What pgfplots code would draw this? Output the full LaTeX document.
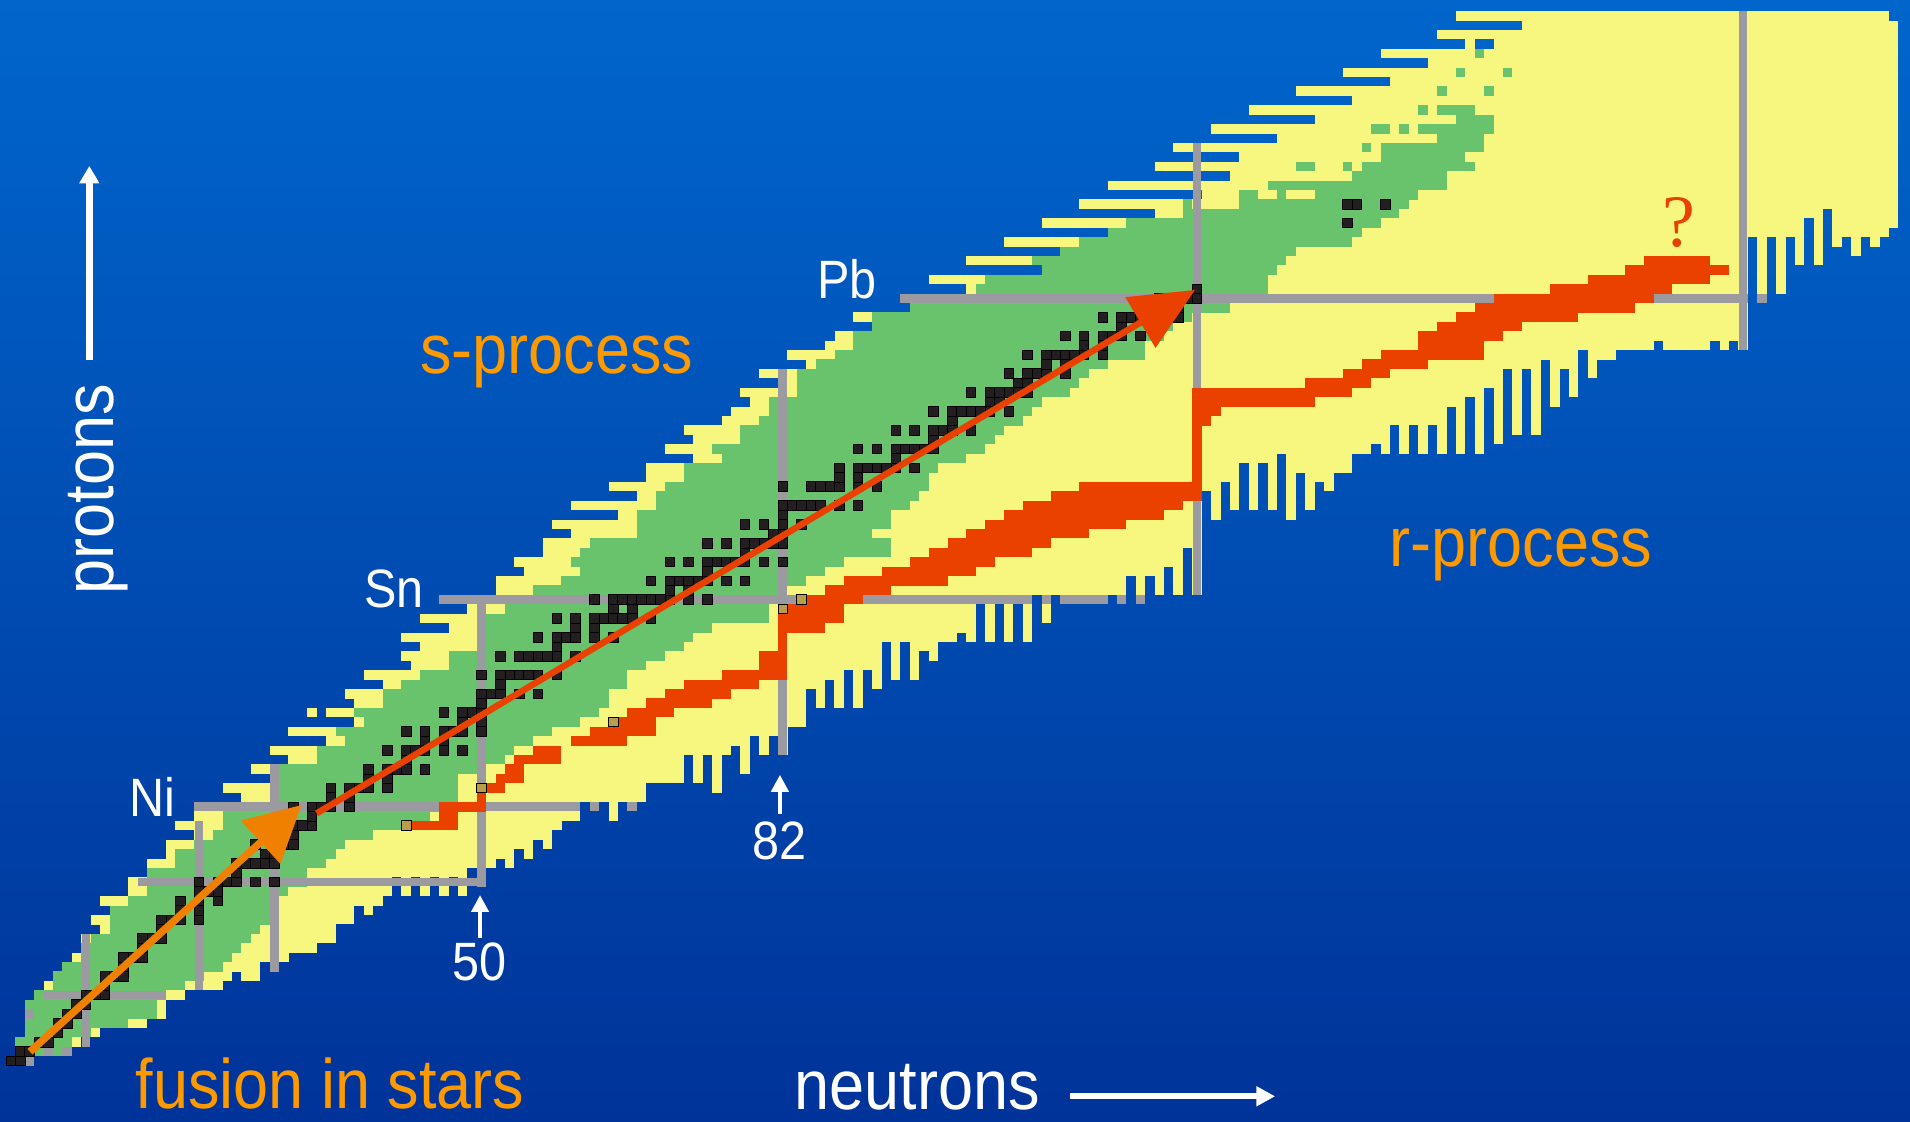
\documentclass[border=0pt]{standalone}
\usepackage{fontspec}
\setmainfont{Liberation Sans}
\newfontfamily\qfont{Liberation Serif}
\usepackage{graphicx}
\usepackage{pgfplots}
\pgfplotsset{compat=1.18}
\usetikzlibrary{arrows.meta}
\definecolor{cyel}{RGB}{247,247,128}
\definecolor{cgrn}{RGB}{104,195,108}
\definecolor{cblk}{RGB}{35,31,32}
\definecolor{cred}{RGB}{234,64,0}
\definecolor{cgray}{RGB}{154,154,160}
\definecolor{cgold}{RGB}{184,158,72}
\definecolor{corg}{RGB}{240,128,0}
\definecolor{ctxt}{RGB}{255,153,0}
\definecolor{bgtop}{RGB}{0,102,204}
\definecolor{bgbot}{RGB}{0,51,153}
\pgfplotsset{
  rowbars/.style={only marks, mark=*, mark size=0pt,
    mark options={draw=none, fill=none},
    error bars/.cd, x dir=plus, x explicit, error mark=none,
    error bar style={draw=#1, line width=4.76pt, line cap=butt}},
  colbars/.style={only marks, mark=*, mark size=0pt,
    mark options={draw=none, fill=none},
    error bars/.cd, y dir=plus, y explicit, error mark=none,
    error bar style={draw=#1, line width=4.76pt, line cap=butt}},
  magic/.style={cgray, line width=4.3pt, line cap=butt},
}
\begin{document}
\begin{tikzpicture}
\shade[top color=bgtop, bottom color=bgbot] (0,0) rectangle (955pt,561pt);
\begin{axis}[at={(0,0)}, anchor=south west, scale only axis,
  width=955pt, height=561pt,
  xmin=-1.137, xmax=201.73, ymin=-5.48, ymax=113.69,
  axis lines=none, ticks=none, clip marker paths=true]

% ---------- yellow: rows (predicted nuclei) ----------
\addplot[rowbars=cyel] table[x=x, y=z, x error=w] {
z x w
1 -0.5 3
2 0.5 6
3 0.5 7
4 1.5 8
5 1.5 13
6 1.5 15
7 1.5 15
8 2.5 16
9 3.5 15
10 4.5 16
11 5.5 17
12 6.5 18
13 7.5 19
14 7.5 21
15 9.5 21
16 8.5 24
17 10.5 24
18 9.5 27
19 12.5 26
20 12.5 28
21 14.5 28
22 14.5 30
23 16.5 30
24 16.5 31
25 19.5 28
26 17.5 30
27 19.5 28
28 19.5 31
29 24.5 26
30 22.5 30
31 27.5 27
32 25.5 29
33 29.5 29
34 27.5 33
35 33.5 32
36 29.5 39
37 36.5 32
38 33.5 37
38 31.5 1
39 36.5 38
40 35.5 41
41 39.5 40
42 37.5 45
43 42.5 40
44 41.5 41
45 43.5 39
46 41.5 41
47 46.5 40
48 43.5 45
49 48.5 40
50 45.5 45
51 51.5 42
52 51.5 48
53 54.5 48
54 53.5 51
55 56.5 52
56 56.5 54
57 59.5 55
58 57.5 61
59 64.5 58
60 59.5 65
61 66.5 60
62 63.5 63
63 67.5 59
64 67.5 59
65 72.5 54
66 69.5 57
67 72.5 54
68 71.5 55
69 75.5 52
70 76.5 52
71 78.5 60
72 77.5 65
73 81.5 63
74 79.5 67
75 84.5 66
76 82.5 74
77 86.5 88
78 87.5 97
79 91.5 93
80 89.5 95
81 95.5 89
82 94.5 90
83 101.5 83
84 97.5 87
85 109.5 75
86 101.5 83
87 111.5 73
88 105.5 79
89 116.5 68
90 109.5 81
91 121.5 69
92 113.5 87
93 126.5 74
94 116.5 84
95 129.5 71
96 121.5 79
97 130.5 70
98 123.5 77
99 134.5 66
100 127.5 73
101 138.5 62
102 131.5 69
103 142.5 58
104 136.5 64
105 146.5 54
106 141.5 59
107 150.5 50
108 145.5 55
109 157.5 43
109 154.5 1
110 151.5 49
111 160.5 40
112 153.5 46
};

% ---------- yellow: columns (neutron-rich edge) ----------
\addplot[colbars=cyel] table[x=n, y=y, y error=h] {
n y h
19 8.5 2
20 8.5 2
21 8.5 3
22 8.5 3
23 9.5 3
24 10.5 2
25 9.5 4
26 9.5 4
27 11.5 3
28 10.5 4
29 11.5 4
30 12.5 3
31 12.5 4
32 12.5 4
33 13.5 4
34 13.5 4
35 15.5 3
36 15.5 3
37 17.5 2
38 16.5 3
39 17.5 3
40 18.5 2
41 20.5 1
42 18.5 3
43 20.5 2
44 18.5 4
45 20.5 3
46 18.5 5
47 20.5 4
48 18.5 10
49 21.5 7
50 19.5 9
51 21.5 9
52 22.5 8
53 21.5 10
54 23.5 8
55 22.5 11
56 24.5 9
57 23.5 10
58 25.5 8
59 26.5 8
60 26.5 8
61 28.5 7
62 28.5 7
63 28.5 7
64 26.5 9
65 28.5 7
66 28.5 8
67 28.5 8
68 30.5 6
69 30.5 8
70 30.5 8
71 30.5 9
72 33.5 6
73 30.5 9
74 33.5 6
75 29.5 11
76 33.5 7
77 34.5 7
78 31.5 10
79 35.5 6
80 33.5 9
81 35.5 7
82 33.5 9
83 36.5 11
84 36.5 11
85 40.5 7
86 38.5 9
87 41.5 7
88 38.5 10
89 42.5 8
90 38.5 12
91 42.5 9
92 40.5 11
93 45.5 6
94 41.5 11
95 45.5 7
96 41.5 11
97 44.5 8
98 43.5 9
99 45.5 7
100 45.5 8
101 46.5 7
102 45.5 8
103 50.5 4
104 45.5 9
105 50.5 5
106 45.5 10
107 50.5 5
108 45.5 10
109 50.5 6
110 47.5 9
111 50.5 7
112 50.5 7
113 50.5 7
114 50.5 7
115 50.5 8
116 50.5 8
117 50.5 8
118 50.5 8
119 52.5 7
120 50.5 9
121 52.5 7
122 50.5 9
123 53.5 7
124 50.5 10
125 55.5 6
126 50.5 11
127 61.5 8
128 58.5 12
129 62.5 9
130 59.5 12
131 64.5 7
132 59.5 12
133 64.5 7
134 59.5 12
135 65.5 6
136 58.5 13
137 63.5 8
138 59.5 12
139 62.5 10
140 61.5 11
141 63.5 9
142 63.5 9
143 65.5 8
144 65.5 8
145 66.5 8
146 65.5 9
147 68.5 7
148 65.5 10
149 68.5 7
150 65.5 10
151 68.5 8
152 65.5 11
153 70.5 6
154 65.5 11
155 71.5 5
156 65.5 11
157 72.5 5
158 66.5 11
159 74.5 3
160 67.5 10
161 74.5 3
162 67.5 10
163 75.5 2
164 70.5 7
165 74.5 3
166 71.5 6
167 76.5 1
168 73.5 4
169 75.5 2
170 75.5 2
171 76.5 1
172 76.5 1
173 76.5 1
174 76.5 1
175 77.5 1
176 76.5 2
177 76.5 2
178 76.5 2
179 76.5 2
180 76.5 2
181 77.5 1
182 76.5 2
183 77.5 1
184 76.5 2
185 88.5 2
186 82.5 8
187 88.5 2
188 82.5 8
189 88.5 2
190 85.5 5
191 90.5 1
192 85.5 6
194 87.5 4
195 88.5 3
196 86.5 5
197 88.5 3
198 87.5 4
199 88.5 3
200 89.5 2
};

% ---------- green: known nuclei ----------
\addplot[rowbars=cgrn] table[x=x, y=z, x error=w] {
z x w
1 -0.5 3
2 0.5 5
3 0.5 6
4 1.5 7
5 1.5 11
6 1.5 14
7 1.5 14
8 2.5 14
9 4.5 14
10 4.5 16
11 5.5 17
12 7.5 16
13 7.5 17
14 8.5 17
15 10.5 16
16 10.5 17
17 10.5 18
18 12.5 16
19 14.5 15
20 14.5 17
21 14.5 17
22 17.5 16
23 17.5 17
24 19.5 16
25 21.5 17
26 22.5 19
27 22.5 22
28 24.5 21
29 27.5 20
30 27.5 20
31 28.5 19
32 28.5 22
33 32.5 20
34 32.5 21
35 35.5 20
36 34.5 23
37 37.5 23
38 36.5 26
39 39.5 24
40 39.5 24
41 41.5 24
42 43.5 22
43 46.5 21
44 46.5 23
45 50.5 21
46 50.5 22
47 50.5 24
48 50.5 30
49 52.5 28
50 54.5 27
51 55.5 27
52 58.5 26
53 60.5 26
54 59.5 29
55 60.5 33
56 61.5 32
57 66.5 25
58 66.5 27
59 66.5 27
60 68.5 27
61 68.5 28
62 69.5 28
63 71.5 26
64 71.5 27
65 75.5 26
66 74.5 29
67 77.5 27
68 77.5 28
69 79.5 28
70 80.5 28
71 80.5 29
72 83.5 29
73 83.5 30
74 83.5 31
75 85.5 31
76 87.5 33
77 89.5 31
78 89.5 33
79 91.5 32
80 91.5 34
81 95.5 34
82 97.5 35
83 102.5 31
84 103.5 30
85 109.5 25
86 108.5 27
87 111.5 25
88 113.5 29
89 116.5 27
90 118.5 27
91 124.5 23
92 130.5 18
92 124.5 1
93 138.5 11
93 130.5 2
93 134.5 1
94 133.5 19
95 142.5 10
96 143.5 12
96 136.5 2
96 141.5 1
97 145.5 9
98 145.5 11
98 143.5 1
99 151.5 5
100 149.5 8
100 144.5 2
100 147.5 1
101 153.5 4
102 151.5 4
102 149.5 1
104 151.5 1
104 156.5 1
106 153.5 1
106 158.5 1
108 155.5 1
};

% ---------- magic numbers ----------
\addplot[magic] coordinates {(3.5,8) (16.5,8)};
\addplot[magic] coordinates {(13.5,20) (49.5,20)};
\addplot[magic] coordinates {(19.5,28) (60.5,28)};
\addplot[magic] coordinates {(61.5,28) (62.5,28)};
\addplot[magic] coordinates {(65.5,28) (66.5,28)};
\addplot[magic] coordinates {(45.5,50) (108.5,50)};
\addplot[magic] coordinates {(109.5,50) (110.5,50)};
\addplot[magic] coordinates {(111.5,50) (116.5,50)};
\addplot[magic] coordinates {(117.5,50) (118.5,50)};
\addplot[magic] coordinates {(119.5,50) (120.5,50)};
\addplot[magic] coordinates {(94.5,82) (184.5,82)};
\addplot[magic] coordinates {(185.5,82) (186.5,82)};
\addplot[magic] coordinates {(2,0.5) (2,1.5)};
\addplot[magic] coordinates {(2,5.5) (2,6.5)};
\addplot[magic] coordinates {(3.5,2) (4.5,2)};
\addplot[magic] coordinates {(5.5,2) (6.5,2)};
\addplot[magic] coordinates {(8,2.5) (8,14.5)};
\addplot[magic] coordinates {(20,8.5) (20,26.5)};
\addplot[magic] coordinates {(28,10.5) (28,32.5)};
\addplot[magic] coordinates {(50,19.5) (50,50)};
\addplot[magic] coordinates {(82,33.5) (82,74.5)};
\addplot[magic] coordinates {(126,50.5) (126,98.5)};
\addplot[magic] coordinates {(184,76.5) (184,112.5)};

% ---------- r-process path ----------
\addplot[rowbars=cred] table[x=x, y=z, x error=w] {
z x w
26 42.5 5
27 45.5 2
28 45.5 5
29 49.5 1
30 50.5 2
31 51.5 3
32 52.5 2
33 53.5 5
34 55.5 3
35 59.5 6
36 61.5 7
37 64.5 4
38 65.5 5
39 67.5 7
40 69.5 7
41 71.5 8
42 75.5 7
43 79.5 3
44 79.5 3
45 81.5 1
46 81.5 1
47 81.5 5
48 81.5 7
49 82.5 6
50 84.5 6
51 86.5 7
52 88.5 11
53 92.5 10
54 95.5 9
55 97.5 11
56 99.5 11
57 101.5 13
58 103.5 15
59 105.5 17
60 107.5 17
61 110.5 16
62 113.5 13
63 125.5 1
64 125.5 1
65 125.5 1
66 125.5 1
67 125.5 1
68 125.5 1
69 125.5 2
70 125.5 3
71 125.5 13
72 125.5 17
73 137.5 7
74 141.5 5
75 143.5 7
76 145.5 11
77 149.5 7
78 149.5 9
79 151.5 9
80 153.5 13
81 155.5 17
82 157.5 17
83 163.5 13
84 167.5 13
85 171.5 11
86 173.5 7
};

\addplot[only marks, mark=square*, mark size=2.4pt,
  mark options={fill=cgold, draw=none}] coordinates {
  (42,26) (50,30) (64,37) (82,49) (84,50)};

% ---------- stable nuclei ----------
\addplot[only marks, mark=square*, mark size=2.4pt,
  mark options={fill=cblk, draw=none}] table[x=n, y=z] {
n z
0 1
1 1
1 2
2 2
3 3
4 3
5 4
5 5
6 5
6 6
7 6
7 7
8 7
8 8
9 8
10 8
10 9
10 10
11 10
12 10
12 11
12 12
13 12
14 12
14 13
14 14
15 14
16 14
16 15
16 16
17 16
18 16
20 16
18 17
20 17
18 18
20 18
22 18
20 19
21 19
22 19
20 20
22 20
23 20
24 20
26 20
28 20
24 21
24 22
25 22
26 22
27 22
28 22
27 23
28 23
26 24
28 24
29 24
30 24
30 25
28 26
30 26
31 26
32 26
32 27
30 28
32 28
33 28
34 28
36 28
34 29
36 29
34 30
36 30
37 30
38 30
40 30
38 31
40 31
38 32
40 32
41 32
42 32
44 32
42 33
40 34
42 34
43 34
44 34
46 34
48 34
44 35
46 35
42 36
44 36
46 36
47 36
48 36
50 36
48 37
50 37
46 38
48 38
49 38
50 38
50 39
50 40
51 40
52 40
54 40
56 40
52 41
50 42
52 42
53 42
54 42
55 42
56 42
58 42
52 44
54 44
55 44
56 44
57 44
58 44
60 44
58 45
56 46
58 46
59 46
60 46
62 46
64 46
60 47
62 47
58 48
60 48
62 48
63 48
64 48
65 48
66 48
68 48
64 49
66 49
62 50
64 50
65 50
66 50
67 50
68 50
69 50
70 50
72 50
74 50
70 51
72 51
68 52
70 52
71 52
72 52
73 52
74 52
76 52
78 52
74 53
70 54
72 54
74 54
75 54
76 54
77 54
78 54
80 54
82 54
78 55
74 56
76 56
78 56
79 56
80 56
81 56
82 56
81 57
82 57
78 58
80 58
82 58
84 58
82 59
82 60
83 60
84 60
85 60
86 60
88 60
90 60
82 62
85 62
86 62
87 62
88 62
90 62
92 62
88 63
90 63
88 64
90 64
91 64
92 64
93 64
94 64
96 64
94 65
90 66
92 66
94 66
95 66
96 66
97 66
98 66
98 67
94 68
96 68
98 68
99 68
100 68
102 68
100 69
98 70
100 70
101 70
102 70
103 70
104 70
106 70
104 71
105 71
102 72
104 72
105 72
106 72
107 72
108 72
107 73
108 73
106 74
108 74
109 74
110 74
112 74
110 75
112 75
108 76
110 76
111 76
112 76
113 76
114 76
116 76
114 77
116 77
112 78
114 78
116 78
117 78
118 78
120 78
118 79
116 80
118 80
119 80
120 80
121 80
122 80
124 80
122 81
124 81
122 82
124 82
125 82
126 82
126 83
142 90
142 92
143 92
146 92
};

% ---------- arrows ----------
\addplot[corg, line width=3.7pt, -{Triangle[length=27.7pt, width=28.4pt]}]
  coordinates {(2.05,1.98) (30.9,28.19)};
\addplot[cred, line width=3.2pt, -{Triangle[length=31.8pt, width=28.7pt]}]
  coordinates {(32.5,27.3) (125.79,82.89)};
\addplot[white, line width=2.3pt, -{Triangle[length=8.5pt, width=8.5pt]}]
  coordinates {(49.85,14.03) (49.85,18.63)};
\addplot[white, line width=2.3pt, -{Triangle[length=8.5pt, width=8.5pt]}]
  coordinates {(81.7,27.26) (81.7,31.4)};
\addplot[white, line width=3.3pt, -{Triangle[length=8.7pt, width=9.5pt]}]
  coordinates {(8.35,75.4) (8.35,96.07)};
\addplot[white, line width=3pt, -{Triangle[length=9.4pt, width=9.5pt]}]
  coordinates {(112.5,-2.75) (134.3,-2.75)};

% ---------- labels ----------
\node[anchor=base, text=ctxt, inner sep=0pt] at (axis cs:58.0,74.04)
  {\scalebox{0.9}[1]{\fontsize{35}{42}\selectfont s-process}};
\node[anchor=base, text=ctxt, inner sep=0pt] at (axis cs:160.4,53.5)
  {\scalebox{0.9}[1]{\fontsize{35}{42}\selectfont r-process}};
\node[anchor=base, text=ctxt, inner sep=0pt] at (axis cs:33.9,-4.0)
  {\scalebox{0.9}[1]{\fontsize{35}{42}\selectfont fusion in stars}};
\node[anchor=base, text=white, inner sep=0pt] at (axis cs:96.3,-4.15)
  {\scalebox{0.9}[1]{\fontsize{35}{42}\selectfont neutrons}};
\node[anchor=base, text=white, inner sep=0pt, rotate=90] at (axis cs:10.9,61.75)
  {\scalebox{0.9}[1]{\fontsize{35}{42}\selectfont protons}};
\node[anchor=base, text=white, inner sep=0pt] at (axis cs:88.8,82.0)
  {\scalebox{0.9}[1]{\fontsize{27}{32}\selectfont Pb}};
\node[anchor=base, text=white, inner sep=0pt] at (axis cs:40.7,49.2)
  {\scalebox{0.9}[1]{\fontsize{27}{32}\selectfont Sn}};
\node[anchor=base, text=white, inner sep=0pt] at (axis cs:15.06,26.95)
  {\scalebox{0.9}[1]{\fontsize{27}{32}\selectfont Ni}};
\node[anchor=base, text=white, inner sep=0pt] at (axis cs:49.78,9.6)
  {\scalebox{0.9}[1]{\fontsize{27}{32}\selectfont 50}};
\node[anchor=base, text=white, inner sep=0pt] at (axis cs:81.67,22.35)
  {\scalebox{0.9}[1]{\fontsize{27}{32}\selectfont 82}};
\node[anchor=base, text=cred, inner sep=0pt] at (axis cs:177.2,87.5)
  {\qfont\fontsize{37}{44}\selectfont ?};
\end{axis}
\end{tikzpicture}
\end{document}
